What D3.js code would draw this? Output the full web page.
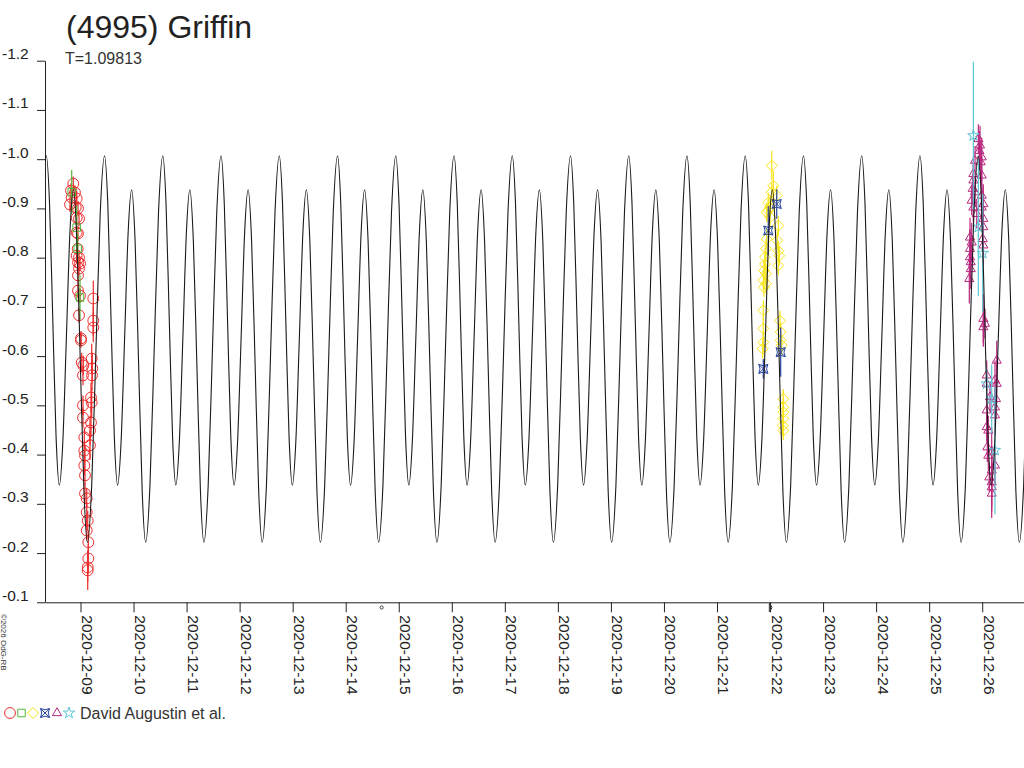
<!DOCTYPE html>
<html>
<head>
<meta charset="utf-8">
<script src="https://cdn.jsdelivr.net/npm/d3@7"></script>
<style>
  html, body { margin: 0; padding: 0; background: #fff; }
  svg { display: block; font-family: "Liberation Sans", Arial, sans-serif; }
</style>
</head>
<body>
<svg id="chart" width="1024" height="768"></svg>
<script>
// ---------- data (times are decimal December-2020 days, UTC) ----------
const title = "(4995) Griffin";
const periodLabel = "T=1.09813";
const T = 1.09813;             // period in days
const epochDay = 16.042;       // a primary maximum of the model curve

// one cycle of the model light curve (phase, magnitude)
const cyclePhase = [0, 0.056, 0.112, 0.168, 0.224, 0.284, 0.345, 0.405, 0.465, 0.525, 0.586, 0.646, 0.706, 0.7795, 0.853, 0.9265, 1];
const cycleMag   = [-1.007, -0.909, -0.672, -0.436, -0.338, -0.426, -0.638, -0.850, -0.938, -0.833, -0.580, -0.327, -0.222, -0.337, -0.615, -0.892, -1.007];

const xDomainDays = [8.3307, 26.788];
const yDomain = [-0.1, -1.2];
const yTicks = [-1.2, -1.1, -1.0, -0.9, -0.8, -0.7, -0.6, -0.5, -0.4, -0.3, -0.2, -0.1];
const xTickLabels = ["2020-12-09","2020-12-10","2020-12-11","2020-12-12","2020-12-13","2020-12-14",
  "2020-12-15","2020-12-16","2020-12-17","2020-12-18","2020-12-19","2020-12-20","2020-12-21",
  "2020-12-22","2020-12-23","2020-12-24","2020-12-25","2020-12-26"];
const moonNew = [14.678];       // 2020-12-14 16:17 UT
const moonFirstQuarter = [21.987]; // 2020-12-21 23:41 UT

// observations [day, mag, error]
const redObs = [
  [8.864,-0.950,0.015],[8.821,-0.936,0.015],[8.896,-0.932,0.015],[8.834,-0.922,0.015],[8.928,-0.920,0.015],
  [8.802,-0.908,0.015],[8.910,-0.902,0.015],[8.953,-0.900,0.015],[8.928,-0.881,0.015],[8.972,-0.879,0.015],
  [8.928,-0.851,0.015],[8.953,-0.849,0.015],[8.947,-0.818,0.015],[8.928,-0.804,0.015],[8.972,-0.800,0.015],
  [8.953,-0.790,0.015],[8.991,-0.788,0.015],[8.972,-0.778,0.015],[8.953,-0.764,0.015],[8.953,-0.733,0.015],
  [8.991,-0.723,0.015],[9.241,-0.717,0.036],[8.972,-0.683,0.015],[9.241,-0.672,0.03],[9.241,-0.658,0.03],
  [9.009,-0.636,0.015],[9.009,-0.632,0.015],[9.023,-0.587,0.02],[9.053,-0.581,0.02],[9.211,-0.595,0.03],
  [9.222,-0.575,0.03],[9.047,-0.561,0.02],[9.217,-0.561,0.03],[9.198,-0.516,0.03],[9.211,-0.506,0.03],
  [9.047,-0.500,0.02],[9.047,-0.475,0.02],[9.198,-0.465,0.03],[9.179,-0.449,0.03],[9.072,-0.435,0.02],
  [9.179,-0.419,0.03],[9.072,-0.408,0.02],[9.085,-0.398,0.02],[9.072,-0.378,0.02],[9.085,-0.358,0.02],
  [9.085,-0.321,0.02],[9.117,-0.311,0.02],[9.117,-0.283,0.02],[9.136,-0.266,0.02],[9.117,-0.246,0.02],
  [9.147,-0.222,0.025],[9.147,-0.189,0.03],[9.136,-0.171,0.03],[9.136,-0.165,0.04]
];
const greenObs = [[8.834,-0.933,0.045],[8.928,-0.861,0.045],[8.947,-0.818,0.03],[8.991,-0.719,0.045]];
const yellowObs = [
  [22.032,-0.987,0.03],[22.062,-0.946,0.03],[22.032,-0.933,0.02],[22.126,-0.926,0.02],[21.967,-0.912,0.02],
  [22.000,-0.902,0.02],[21.967,-0.896,0.02],[21.937,-0.892,0.02],[22.000,-0.882,0.02],[22.156,-0.865,0.02],
  [21.937,-0.838,0.02],[22.137,-0.835,0.02],[21.924,-0.818,0.02],[22.156,-0.814,0.02],[22.175,-0.804,0.02],
  [21.905,-0.801,0.02],[21.905,-0.787,0.02],[22.156,-0.784,0.02],[21.886,-0.774,0.02],[21.924,-0.767,0.02],
  [21.873,-0.754,0.02],[21.924,-0.747,0.02],[21.886,-0.740,0.02],[21.873,-0.693,0.02],[22.188,-0.672,0.02],
  [21.873,-0.656,0.02],[22.201,-0.649,0.02],[21.873,-0.628,0.02],[22.201,-0.632,0.02],[22.220,-0.622,0.02],
  [21.862,-0.615,0.02],[22.250,-0.513,0.02],[22.250,-0.496,0.02],[22.250,-0.486,0.02],[22.250,-0.473,0.02],
  [22.239,-0.459,0.02],[22.250,-0.449,0.02]
];
const blueObs = [[22.126,-0.909,0.03],[21.967,-0.855,0.05],[22.201,-0.608,0.05],[21.873,-0.574,0.02]];
const magentaObs = [
  [25.927,-1.041,0.03],[25.959,-1.028,0.04],[25.946,-1.017,0.04],[25.991,-1.004,0.04],[25.865,-0.997,0.03],
  [25.972,-0.994,0.04],[25.833,-0.970,0.03],[25.991,-0.967,0.04],[25.833,-0.957,0.03],[25.821,-0.940,0.03],
  [25.865,-0.933,0.03],[25.991,-0.926,0.04],[25.802,-0.916,0.03],[26.021,-0.909,0.04],[25.833,-0.902,0.03],
  [25.991,-0.902,0.04],[25.897,-0.889,0.03],[26.021,-0.879,0.04],[26.021,-0.862,0.04],[25.770,-0.841,0.04],
  [25.802,-0.831,0.04],[26.010,-0.838,0.04],[26.021,-0.825,0.04],[25.770,-0.818,0.04],[25.770,-0.801,0.04],
  [25.784,-0.791,0.04],[25.784,-0.777,0.04],[25.757,-0.757,0.05],[26.021,-0.676,0.05],[26.053,-0.666,0.03],
  [26.021,-0.659,0.04],[26.274,-0.591,0.04],[26.085,-0.561,0.03],[26.241,-0.551,0.04],[26.085,-0.544,0.03],
  [26.274,-0.544,0.04],[26.147,-0.517,0.03],[26.260,-0.513,0.04],[26.241,-0.496,0.04],[26.085,-0.490,0.03],
  [26.241,-0.480,0.04],[26.085,-0.456,0.03],[26.115,-0.449,0.03],[26.096,-0.415,0.03],[26.179,-0.405,0.05],
  [26.115,-0.398,0.03],[26.241,-0.378,0.04],[26.179,-0.368,0.05],[26.134,-0.354,0.03],[26.179,-0.344,0.05],
  [26.179,-0.334,0.05],[26.179,-0.321,0.05]
];
const cyanObs = [[25.833,-1.048,0.15],[25.927,-0.862,0.14],[26.010,-0.809,0.12],[26.085,-0.544,0.03],[26.179,-0.513,0.07],[26.241,-0.409,0.13]];
const legendLabel = "David Augustin et al.";
const copyright = "\u00A92026 OdG-RB";

// ---------- drawing ----------
const svg = d3.select("#chart");
const plotLeft = 45, plotRight = 1024, plotTop = 60.7, plotBottom = 602.3;
const txtColor = "#222";

const dayToDate = d => new Date(Date.UTC(2020, 11, 1) + (d - 1) * 86400000);
const x = d3.scaleUtc().domain(xDomainDays.map(dayToDate)).range([plotLeft, plotRight]);
const y = d3.scaleLinear().domain(yDomain).range([plotBottom, plotTop]);

svg.append("defs").append("clipPath").attr("id", "plotclip")
  .append("rect").attr("x", plotLeft).attr("y", 0).attr("width", plotRight - plotLeft).attr("height", plotBottom);

// title
svg.append("text").attr("x", 66).attr("y", 38).attr("font-size", 32).attr("fill", txtColor).text(title);
svg.append("text").attr("x", 65).attr("y", 64).attr("font-size", 16).attr("fill", "#333").text(periodLabel);

// y axis
const yAxis = d3.axisLeft(y).tickValues(yTicks).tickSize(8).tickSizeOuter(0).tickFormat(v => v.toFixed(1));
const gy = svg.append("g").attr("transform", `translate(${plotLeft},0)`).call(yAxis);
gy.select(".domain").attr("stroke", txtColor);
gy.selectAll(".tick line").attr("stroke", txtColor);
gy.selectAll(".tick text").attr("x", 2 - plotLeft).attr("dy", null).attr("y", -2)
  .attr("text-anchor", "start").attr("font-size", 15.5).attr("fill", txtColor)
  .attr("font-family", "'Liberation Sans', Arial, sans-serif");

// x axis
const xTickDates = xTickLabels.map(s => new Date(s + "T00:00:00Z"));
const xAxis = d3.axisBottom(x).tickValues(xTickDates).tickSize(10).tickSizeOuter(0)
  .tickFormat(d3.utcFormat("%Y-%m-%d"));
const gx = svg.append("g").attr("transform", `translate(0,${plotBottom})`).call(xAxis);
gx.select(".domain").attr("stroke", txtColor);
gx.selectAll(".tick line").attr("stroke", txtColor);
gx.selectAll(".tick text").attr("y", 0).attr("dy", null).attr("x", 0)
  .attr("text-anchor", "start").attr("font-size", 15.5).attr("fill", txtColor)
  .attr("font-family", "'Liberation Sans', Arial, sans-serif")
  .attr("transform", "translate(1,13) rotate(90)");

// moon-phase marks
svg.selectAll(".newmoon").data(moonNew).join("circle")
  .attr("cx", d => x(dayToDate(d))).attr("cy", 607.5).attr("r", 1.6)
  .attr("fill", "none").attr("stroke", "#333").attr("stroke-width", 0.9);
svg.selectAll(".fq").data(moonFirstQuarter).join("path")
  .attr("transform", d => `translate(${x(dayToDate(d))},607)`)
  .attr("d", "M0,-4 L0,5 M0,-2 A2.5,2.5 0 0 1 0,3")
  .attr("fill", "none").attr("stroke", "#333").attr("stroke-width", 1);

// symbols
const sym = {
  circle: d3.symbol(d3.symbolCircle, 92)(),
  square: d3.symbol(d3.symbolSquare, 56)(),
  diamond: "M0,-5.5L5.5,0L0,5.5L-5.5,0Z",
  xsquare: "M-4.5,-4.5Q0,-2 4.5,-4.5Q2,0 4.5,4.5Q0,2 -4.5,4.5Q-2,0 -4.5,-4.5Z M-4.5,-4.5L4.5,4.5M4.5,-4.5L-4.5,4.5",
  triangle: d3.symbol(d3.symbolTriangle, 36)(),
  star: d3.symbol(d3.symbolStar, 40)()
};
const series = [
  { data: redObs, color: "#ee2b2b", shape: "circle" },
  { data: greenObs, color: "#4fb83a", shape: "square" },
  { data: yellowObs, color: "#f7e417", shape: "diamond" },
  { data: blueObs, color: "#2a45a0", shape: "xsquare" },
  { data: magentaObs, color: "#b8287e", shape: "triangle" },
  { data: cyanObs, color: "#5cc6d6", shape: "star" }
];

const plot = svg.append("g").attr("clip-path", "url(#plotclip)");
series.forEach(s => {
  const g = plot.append("g");
  g.selectAll("line").data(s.data).join("line")
    .attr("x1", d => x(dayToDate(d[0]))).attr("x2", d => x(dayToDate(d[0])))
    .attr("y1", d => y(d[1] - d[2])).attr("y2", d => y(d[1] + d[2]))
    .attr("stroke", s.color).attr("stroke-width", 1.2);
  g.selectAll("path").data(s.data).join("path")
    .attr("transform", d => `translate(${x(dayToDate(d[0]))},${y(d[1])})`)
    .attr("d", sym[s.shape]).attr("fill", "none").attr("stroke", s.color).attr("stroke-width", 1);
});

// model curve: the cycle, repeated with period T
const modelPts = [];
const k0 = Math.floor((xDomainDays[0] - epochDay) / T) - 1;
const k1 = Math.ceil((xDomainDays[1] - epochDay) / T) + 1;
for (let k = k0; k <= k1; k++) {
  cyclePhase.forEach((p, i) => {
    if (i === cyclePhase.length - 1 && k !== k1) return;
    modelPts.push([epochDay + (k + p) * T, cycleMag[i]]);
  });
}
const line = d3.line().x(d => x(dayToDate(d[0]))).y(d => y(d[1])).curve(d3.curveMonotoneX);
plot.append("path").datum(modelPts).attr("d", line)
  .attr("fill", "none").attr("stroke", "#1a1a1a").attr("stroke-width", 1.1);

// legend
const lg = svg.append("g");
const legendX = [10, 21.5, 33, 45, 57, 69];
series.forEach((s, i) => {
  lg.append("path").attr("transform", `translate(${legendX[i]},713)`)
    .attr("d", sym[s.shape]).attr("fill", "none").attr("stroke", s.color).attr("stroke-width", 1);
});
lg.append("text").attr("x", 80).attr("y", 719).attr("font-size", 16).attr("fill", "#333").text(legendLabel);

// copyright
svg.append("text").attr("transform", "translate(1,614) rotate(90)")
  .attr("font-size", 8).attr("fill", "#333").text(copyright);
</script>
</body>
</html>
